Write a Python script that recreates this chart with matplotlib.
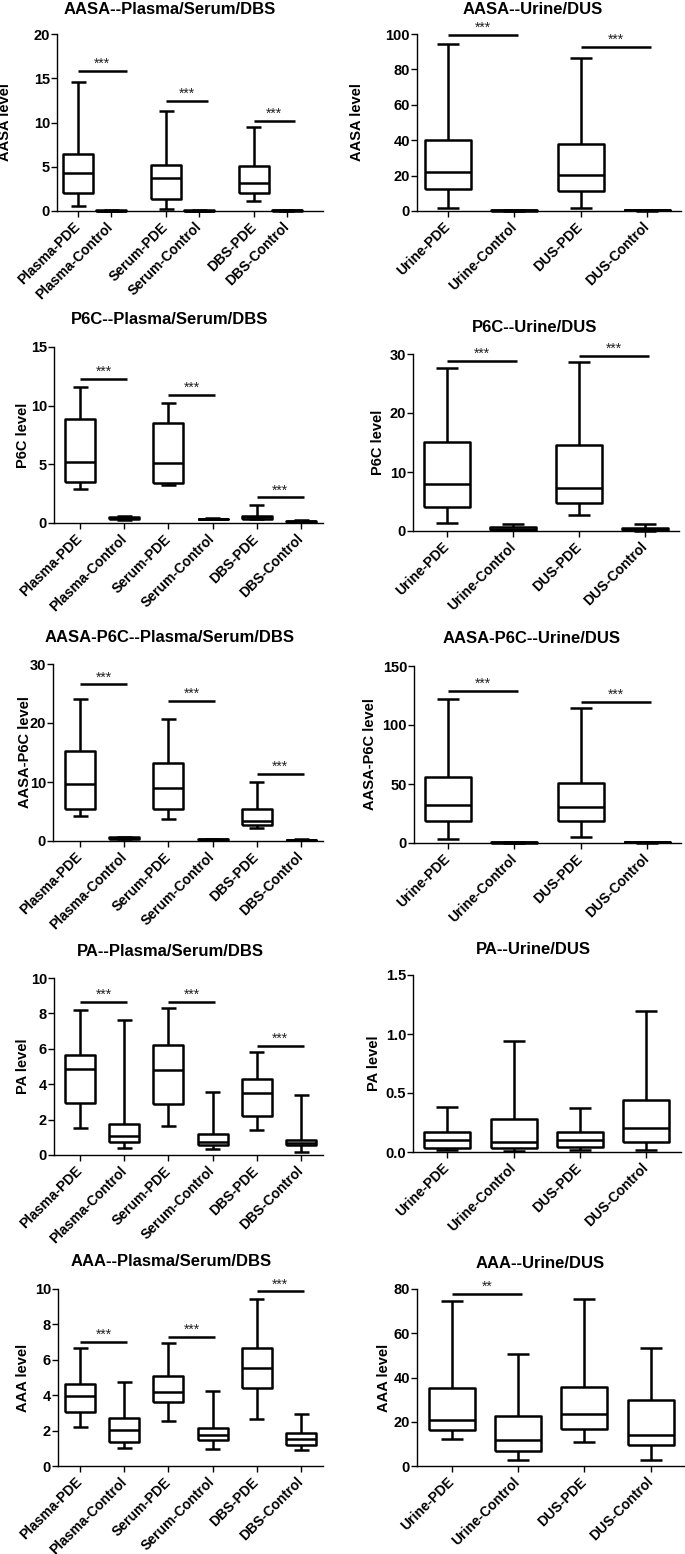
import matplotlib
matplotlib.use('Agg')
import matplotlib.pyplot as plt

plt.rcParams['font.family'] = ['Liberation Sans', 'DejaVu Sans']
plt.rcParams['font.weight'] = 'bold'
plt.rcParams['axes.labelweight'] = 'bold'

W, H = 685, 1554

blood_groups = ['Plasma-PDE', 'Plasma-Control', 'Serum-PDE', 'Serum-Control', 'DBS-PDE', 'DBS-Control']
urine_groups = ['Urine-PDE', 'Urine-Control', 'DUS-PDE', 'DUS-Control']

# five-number summaries per group: min, q1, median, q3, max
aasa_blood = [[0.56, 2.07, 4.33, 6.44, 14.6], [0.0, 0.02, 0.04, 0.06, 0.08],
              [0.23, 1.39, 3.77, 5.24, 11.34], [0.0, 0.02, 0.04, 0.06, 0.08],
              [1.13, 2.07, 3.16, 5.08, 9.49], [0.02, 0.05, 0.08, 0.1, 0.12]]
aasa_urine = [[1.7, 12.3, 22.3, 40.0, 94.3], [0.1, 0.2, 0.3, 0.4, 0.5],
              [1.9, 11.3, 20.2, 38.1, 86.2], [0.2, 0.35, 0.5, 0.6, 0.8]]
p6c_blood = [[2.92, 3.51, 5.18, 8.86, 11.6], [0.25, 0.35, 0.45, 0.55, 0.6],
             [3.23, 3.43, 5.09, 8.5, 10.19], [0.3, 0.33, 0.35, 0.37, 0.4],
             [0.35, 0.37, 0.5, 0.62, 1.56], [0.08, 0.12, 0.15, 0.2, 0.25]]
p6c_urine = [[1.41, 4.1, 8.0, 15.03, 27.7], [0.1, 0.25, 0.4, 0.62, 1.13],
             [2.66, 4.7, 7.34, 14.5, 28.6], [0.05, 0.2, 0.35, 0.55, 1.13]]
aasa_p6c_blood = [[4.29, 5.37, 9.66, 15.25, 24.1], [0.3, 0.4, 0.5, 0.6, 0.7],
                  [3.73, 5.37, 8.93, 13.3, 20.6], [0.2, 0.25, 0.3, 0.35, 0.4],
                  [2.2, 2.77, 3.45, 5.48, 10.0], [0.1, 0.15, 0.2, 0.25, 0.3]]
aasa_p6c_urine = [[3.4, 18.3, 31.8, 56.0, 121.8], [0.2, 0.4, 0.5, 0.7, 0.9],
                  [4.8, 18.6, 30.4, 50.7, 114.5], [0.4, 0.6, 0.8, 1.0, 1.2]]
pa_blood = [[1.5, 2.93, 4.85, 5.64, 8.18], [0.41, 0.73, 1.07, 1.77, 7.65],
            [1.63, 2.87, 4.79, 6.22, 8.33], [0.36, 0.55, 0.75, 1.17, 3.55],
            [1.41, 2.18, 3.48, 4.3, 5.83], [0.19, 0.56, 0.7, 0.85, 3.4]]
pa_urine = [[0.015, 0.037, 0.1, 0.166, 0.378], [0.006, 0.037, 0.082, 0.279, 0.939],
            [0.017, 0.042, 0.104, 0.172, 0.37], [0.02, 0.085, 0.2, 0.443, 1.196]]
aaa_blood = [[2.2, 3.05, 3.97, 4.64, 6.69], [1.03, 1.35, 2.03, 2.74, 4.74],
             [2.56, 3.61, 4.17, 5.06, 6.94], [0.98, 1.45, 1.73, 2.16, 4.23],
             [2.67, 4.4, 5.53, 6.64, 9.45], [0.92, 1.18, 1.5, 1.88, 2.93]]
aaa_urine = [[12.0, 16.4, 20.8, 35.2, 74.7], [2.7, 6.6, 11.7, 22.7, 50.8],
             [10.8, 16.8, 23.3, 35.5, 75.3], [2.7, 9.5, 14.0, 29.8, 53.5]]

# significance bars: height of each PDE-vs-Control bar and its label
aasa_blood_sig = [15.8, 12.47, 10.17]
aasa_urine_sig = [99.6, 92.8]
p6c_blood_sig = [12.3, 10.95, 2.18]
p6c_urine_sig = [28.8, 29.7]
aasa_p6c_blood_sig = [26.55, 23.7, 11.36]
aasa_p6c_urine_sig = [129.2, 119.6]
pa_blood_sig = [8.63, 8.63, 6.17]
pa_urine_sig = []
aaa_blood_sig = [7.01, 7.29, 9.87]
aaa_urine_sig = [77.9]
aaa_urine_sig_label = ['**']

fig = plt.figure(figsize=(W / 100, H / 100), dpi=100)


def panel(title, ylabel, data, groups, sig, rect, t0, sp, positions, yticks,
          title_xy, label_px, yfmt=None, sig_labels=None, sig_ext=None,
          box_px=30, cap_px=15):
    x0, x1, ytop, ybot = rect
    ax = fig.add_axes([x0 / W, 1 - ybot / H, (x1 - x0) / W, (ybot - ytop) / H])
    stats = []
    for g, d in zip(groups, data):
        stats.append(dict(label=g, whislo=d[0], q1=d[1], med=d[2], q3=d[3], whishi=d[4]))
    lw = 1.8
    ax.bxp(stats, positions=positions, widths=box_px / sp, capwidths=cap_px / sp,
           showfliers=False, patch_artist=False,
           boxprops=dict(color='black', linewidth=lw),
           whiskerprops=dict(color='black', linewidth=lw),
           capprops=dict(color='black', linewidth=lw),
           medianprops=dict(color='black', linewidth=lw),
           manage_ticks=False)
    for a in ax.lines:
        a.set_clip_on(False)
        a.set_solid_capstyle('butt')
    ax.set_xlim((x0 - t0) / sp, (x1 - t0) / sp)
    ax.set_ylim(yticks[0], yticks[-1])
    ax.set_yticks(yticks)
    if yfmt:
        ax.set_yticklabels([yfmt.format(v) for v in yticks])
    ax.set_xticks(positions)
    ax.set_xticklabels(groups, rotation=45, ha='right', va='center',
                       rotation_mode='anchor', fontsize=10, fontweight='bold')
    ax.tick_params(axis='y', labelsize=10.5, length=4, width=1, pad=1)
    ax.tick_params(axis='x', length=4, width=1, pad=6)
    for s in ['top', 'right']:
        ax.spines[s].set_visible(False)
    for s in ['left', 'bottom']:
        ax.spines[s].set_linewidth(1.0)
    ax.set_ylabel(ylabel, fontsize=10.5, fontweight='bold')
    ax.yaxis.set_label_coords(-label_px / (x1 - x0), 0.5)
    if sig_labels is None:
        sig_labels = ['***'] * len(sig)
    if sig_ext is None:
        sig_ext = [0.06] * len(sig)
    for i, y in enumerate(sig):
        xa = positions[2 * i]
        xb = positions[2 * i + 1] + sig_ext[i]
        ax.plot([xa, xb], [y, y], color='black', lw=1.8, clip_on=False,
                solid_capstyle='butt')
        ax.text((xa + xb) / 2, y, sig_labels[i], ha='center', va='bottom',
                fontsize=10, fontweight='normal', color='#222222')
    fig.text(title_xy[0] / W, 1 - title_xy[1] / H, title, ha='center', va='center',
             fontsize=12, fontweight='bold')
    return ax


blood_pos = [0, 1, 2, 3, 4, 5]
urine_pos = [0, 1, 2, 3]

panel('AASA--Plasma/Serum/DBS', 'AASA level', aasa_blood, blood_groups, aasa_blood_sig,
      (57, 323, 34, 211), 78, 33, [0, 1, 2.67, 3.67, 5.33, 6.33], [0, 5, 10, 15, 20],
      (170, 9), 45, sig_ext=[0.47, 0.28, 0.24])
panel('AASA--Urine/DUS', 'AASA level', aasa_urine, urine_groups, aasa_urine_sig,
      (417, 681, 34, 211), 448, 66.3, urine_pos, [0, 20, 40, 60, 80, 100],
      (533, 9), 53, box_px=46, cap_px=22)

panel('P6C--Plasma/Serum/DBS', 'P6C level', p6c_blood, blood_groups, p6c_blood_sig,
      (54, 323, 347, 523), 80, 44.2, blood_pos, [0, 5, 10, 15],
      (170, 320), 24)
panel('P6C--Urine/DUS', 'P6C level', p6c_urine, urine_groups, p6c_urine_sig,
      (413, 679, 354, 531), 447.3, 66, urine_pos, [0, 10, 20, 30],
      (535, 328), 28, box_px=46, cap_px=22)

panel('AASA-P6C--Plasma/Serum/DBS', 'AASA-P6C level', aasa_p6c_blood, blood_groups,
      aasa_p6c_blood_sig, (53, 323, 664, 841), 80, 44.2, blood_pos, [0, 10, 20, 30],
      (170, 638), 21)
panel('AASA-P6C--Urine/DUS', 'AASA-P6C level', aasa_p6c_urine, urine_groups,
      aasa_p6c_urine_sig, (414, 681, 666, 843), 447.7, 66.5, urine_pos, [0, 50, 100, 150],
      (532, 639), 37, box_px=46, cap_px=22)

panel('PA--Plasma/Serum/DBS', 'PA level', pa_blood, blood_groups, pa_blood_sig,
      (54, 323, 978, 1155), 80, 44.2, blood_pos, [0, 2, 4, 6, 8, 10],
      (170, 951), 24)
panel('PA--Urine/DUS', 'PA level', pa_urine, urine_groups, pa_urine_sig,
      (413, 681, 975, 1152), 447.3, 66.3, urine_pos, [0, 0.5, 1.0, 1.5],
      (533, 949), 32, yfmt='{:.1f}', box_px=46, cap_px=22)

panel('AAA--Plasma/Serum/DBS', 'AAA level', aaa_blood, blood_groups, aaa_blood_sig,
      (58, 323, 1289, 1466), 80, 44.2, blood_pos, [0, 2, 4, 6, 8, 10],
      (171, 1262), 28)
panel('AAA--Urine/DUS', 'AAA level', aaa_urine, urine_groups, aaa_urine_sig,
      (417, 684, 1289, 1466), 451.7, 66.3, urine_pos, [0, 20, 40, 60, 80],
      (540, 1263), 26, sig_labels=aaa_urine_sig_label, box_px=46, cap_px=22)

fig.savefig('out.png', dpi=100)
